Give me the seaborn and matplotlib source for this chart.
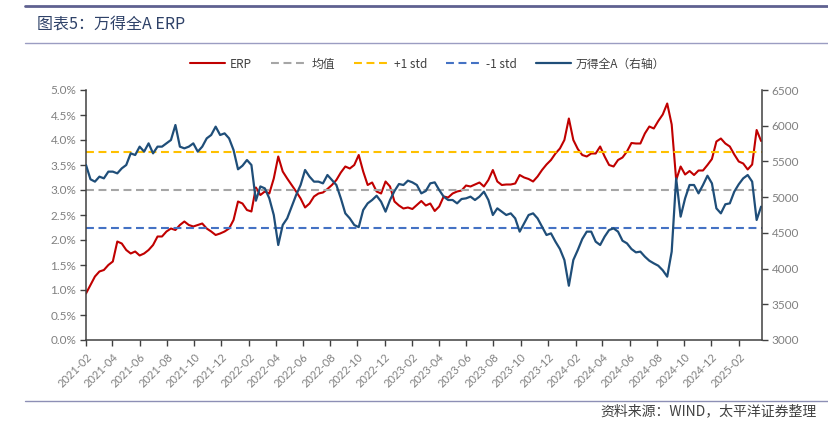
import pandas as pd
import seaborn as sns
import matplotlib.pyplot as plt
from matplotlib.lines import Line2D
from matplotlib.ticker import MultipleLocator, FuncFormatter

# 数据：每10天一个点，从2021-02-01开始
start_date = '2021-02-01'
erp = [0.93, 1.10, 1.27, 1.37, 1.40, 1.50, 1.57, 1.97, 1.93, 1.80,
       1.73, 1.77, 1.69, 1.73, 1.80, 1.90, 2.07, 2.07, 2.17, 2.23,
       2.20, 2.30, 2.37, 2.30, 2.27, 2.30, 2.33, 2.23, 2.17, 2.10,
       2.13, 2.17, 2.23, 2.40, 2.77, 2.73, 2.60, 2.57, 3.05, 2.90,
       2.97, 2.93, 3.23, 3.67, 3.37, 3.23, 3.10, 2.97, 2.83, 2.65,
       2.73, 2.87, 2.93, 2.95, 3.02, 3.10, 3.20, 3.35, 3.47, 3.43,
       3.50, 3.70, 3.37, 3.10, 3.15, 2.97, 2.93, 3.17, 3.07, 2.77,
       2.69, 2.63, 2.65, 2.62, 2.70, 2.78, 2.69, 2.73, 2.58, 2.67,
       2.87, 2.85, 2.93, 2.97, 2.99, 3.09, 3.07, 3.11, 3.15, 3.07,
       3.20, 3.40, 3.17, 3.10, 3.11, 3.11, 3.13, 3.30, 3.25, 3.22,
       3.17, 3.27, 3.40, 3.51, 3.60, 3.73, 3.83, 4.00, 4.43, 4.00,
       3.82, 3.70, 3.67, 3.73, 3.73, 3.87, 3.67, 3.50, 3.47, 3.60,
       3.65, 3.77, 3.94, 3.93, 3.93, 4.13, 4.27, 4.23, 4.38, 4.51,
       4.73, 4.31, 3.20, 3.47, 3.31, 3.38, 3.30, 3.39, 3.39, 3.50,
       3.62, 3.97, 4.03, 3.93, 3.87, 3.71, 3.57, 3.53, 3.41, 3.51,
       4.20, 3.98]
wind_a = [5450, 5250, 5217, 5287, 5263, 5357, 5357, 5333, 5403, 5450,
          5613, 5590, 5707, 5637, 5753, 5613, 5707, 5707, 5753, 5800,
          6010, 5707, 5683, 5707, 5753, 5637, 5707, 5823, 5870, 5987,
          5870, 5893, 5823, 5660, 5390, 5440, 5520, 5450, 4950, 5150,
          5123, 4983, 4750, 4330, 4610, 4703, 4867, 5030, 5170, 5380,
          5287, 5217, 5217, 5193, 5310, 5240, 5170, 4983, 4773, 4703,
          4610, 4580, 4820, 4913, 4960, 5020, 4937, 4797, 4960, 5086,
          5184, 5170, 5231, 5207, 5170, 5053, 5086, 5193, 5207, 5100,
          5007, 4960, 4960, 4913, 4974, 4983, 5007, 4960, 5007, 5077,
          4960, 4750, 4843, 4797, 4750, 4773, 4703, 4517, 4633, 4750,
          4773, 4703, 4587, 4470, 4493, 4377, 4274, 4120, 3760, 4120,
          4260, 4414, 4517, 4517, 4377, 4330, 4447, 4540, 4563, 4517,
          4390, 4353, 4274, 4227, 4237, 4167, 4110, 4073, 4040, 3976,
          3887, 4237, 5263, 4727, 4983, 5170, 5170, 5053, 5170, 5300,
          5193, 4843, 4773, 4900, 4913, 5077, 5180, 5263, 5310, 5217,
          4680, 4867]
erp_mean = 3.0
erp_std = 0.755

dates = pd.date_range(start_date, periods=len(erp), freq='10D')
df = pd.DataFrame({'date': dates, 'ERP': erp, 'wind_a': wind_a})

sns.set_style('white')
plt.rcParams['font.family'] = ['Noto Sans CJK SC', 'DejaVu Sans']

W, H = 829, 424
fig = plt.figure(figsize=(W / 100, H / 100), dpi=100)
ax = fig.add_axes([86 / W, 1 - 340 / H, (762 - 86) / W, 250 / H])
ax2 = ax.twinx()

dash = (3.8, 2.2)
sns.lineplot(data=df, x='date', y='ERP', ax=ax, color='#c00000', lw=1.5,
             label='ERP', legend=False)
ax.axhline(erp_mean, color='#a6a6a6', lw=1.5, dashes=dash, label='均值')
ax.axhline(erp_mean + erp_std, color='#ffc000', lw=1.5, dashes=dash, label='+1 std')
ax.axhline(erp_mean - erp_std, color='#4472c4', lw=1.5, dashes=dash, label='-1 std')
sns.lineplot(data=df, x='date', y='wind_a', ax=ax2, color='#1f4e79', lw=1.6,
             label='万得全A（右轴）', legend=False)

# 坐标轴
ax.set_xlim(pd.Timestamp('2021-02-01'), pd.Timestamp('2025-03-24'))
ax.set_ylim(0, 5)
ax2.set_ylim(3000, 6500)
ax.yaxis.set_major_locator(MultipleLocator(0.5))
ax.yaxis.set_major_formatter(FuncFormatter(lambda v, p: f'{v:.1f}%'))
ax2.yaxis.set_major_locator(MultipleLocator(500))

tick_dates = pd.date_range('2021-02-01', '2025-02-01', freq='2MS')
ax.set_xticks(tick_dates)
ax.set_xticklabels([d.strftime('%Y-%m') for d in tick_dates], rotation=45,
                   ha='right', rotation_mode='anchor')

for a in (ax, ax2):
    a.set_xlabel('')
    a.set_ylabel('')
    a.spines['top'].set_visible(False)
    for s in ('left', 'right', 'bottom'):
        a.spines[s].set_color('#404040')
        a.spines[s].set_linewidth(1.1)
ax.spines['right'].set_visible(False)
ax2.spines['left'].set_visible(False)
ax2.spines['bottom'].set_visible(False)

ax.tick_params(axis='both', which='major', direction='out', length=4, width=1,
               color='#404040', labelcolor='#808080', labelsize=8.5,
               bottom=True, left=True, pad=3)
ax.tick_params(axis='x', labelsize=8, pad=4)
ax2.tick_params(axis='y', direction='out', length=4, width=1, color='#404040',
                labelcolor='#808080', labelsize=8.5, right=True, pad=3)
for lbl in ax.get_yticklabels() + ax2.get_yticklabels() + ax.get_xticklabels():
    lbl.set_family(['Lato', 'DejaVu Sans'])

# 图例
h1, l1 = ax.get_legend_handles_labels()
h2, l2 = ax2.get_legend_handles_labels()
leg = fig.legend(h1 + h2, l1 + l2, loc='center', bbox_to_anchor=(0.516, 1 - 64 / H),
                 ncol=5, frameon=False, fontsize=8.5, handlelength=3.0,
                 columnspacing=1.6, handletextpad=0.4)
for t in leg.get_texts():
    t.set_color('#404040')

# 标题与装饰线
fig.add_artist(Line2D([25 / W, 1], [1 - 5.5 / H] * 2, color='#5f6190', lw=2))
fig.add_artist(Line2D([25 / W, 1], [1 - 42.5 / H] * 2, color='#9b9dc2', lw=1))
fig.add_artist(Line2D([25 / W, 1], [1 - 401 / H] * 2, color='#8d8fb5', lw=1))
fig.text(37 / W, 1 - 24 / H, '图表5：万得全A ERP', fontsize=11.5, color='#2e4168',
         va='center', ha='left')
fig.text(817 / W, 1 - 411 / H, '资料来源：WIND，太平洋证券整理', fontsize=10,
         style='italic', color='#404040', va='center', ha='right')

fig.savefig('out.png', dpi=100)
plt.close(fig)
